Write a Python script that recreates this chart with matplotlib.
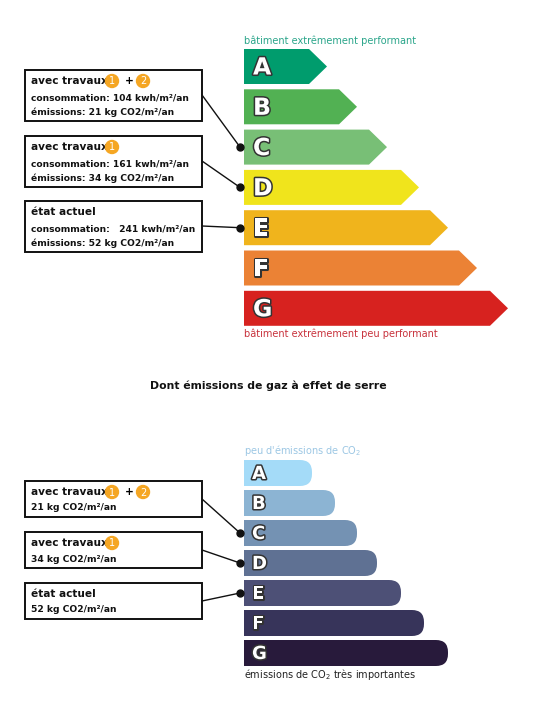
import matplotlib
matplotlib.use("Agg")
import matplotlib.pyplot as plt
from matplotlib.patches import FancyBboxPatch, Rectangle, Circle
import matplotlib.patheffects as pe

classes = ["A", "B", "C", "D", "E", "F", "G"]
energy_tip = [327, 357, 387, 419, 448, 477, 508]
energy_colors = ["#009c6d", "#52b153", "#78bf76", "#f0e41c", "#f0b41c", "#eb8235", "#d7221f"]
ges_end = [312, 335, 357, 377, 401, 424, 448]
ges_colors = ["#a4dbf8", "#8cb4d3", "#7492b3", "#5f7193", "#4d5076", "#37345a", "#281a3b"]

energy_boxes = [
    ("avec travaux", ["1", "2"], "consommation: 104 kwh/m²/an", "émissions: 21 kg CO2/m²/an", "C"),
    ("avec travaux", ["1"], "consommation: 161 kwh/m²/an", "émissions: 34 kg CO2/m²/an", "D"),
    ("état actuel", [], "consommation:   241 kwh/m²/an", "émissions: 52 kg CO2/m²/an", "E"),
]
ges_boxes = [
    ("avec travaux", ["1", "2"], "21 kg CO2/m²/an", "C"),
    ("avec travaux", ["1"], "34 kg CO2/m²/an", "D"),
    ("état actuel", [], "52 kg CO2/m²/an", "E"),
]

fig = plt.figure(figsize=(5.36, 7.24), dpi=100)
ax = fig.add_axes([0, 0, 1, 1])
ax.set_xlim(0, 536)
ax.set_ylim(724, 0)
ax.axis("off")

x0 = 244
stroke = [pe.withStroke(linewidth=2.2, foreground="#333333")]

# Energy chart
e_top, e_pitch, e_h = 49, 40.3, 35
ax.text(x0, 41, "bâtiment extrêmement performant", color="#2aa58a", fontsize=7, va="center")
e_mid = {}
for i, (c, tip, col) in enumerate(zip(classes, energy_tip, energy_colors)):
    y = e_top + i * e_pitch
    body = tip - 18
    ax.fill([x0, body, tip, body, x0], [y, y, y + e_h / 2, y + e_h, y + e_h], color=col, lw=0)
    ax.text(x0 + 9, y + e_h / 2 + 1, c, color="white", fontsize=17, fontweight="bold",
            va="center", ha="left", path_effects=stroke)
    e_mid[c] = y + e_h / 2
ax.text(x0, 334, "bâtiment extrêmement peu performant", color="#c8323c", fontsize=7, va="center")

def circ(x, y, t):
    ax.add_patch(Circle((x, y), 6.5, color="#f5a623", zorder=5))
    ax.text(x, y + 0.5, t, color="white", fontsize=7, ha="center", va="center", zorder=6)

def head(x, y, title, nums):
    ax.text(x, y, title, fontsize=7.6, fontweight="bold", va="center", color="#111")
    if nums:
        circ(x + 81, y, nums[0])
    if len(nums) > 1:
        ax.text(x + 94, y, "+", fontsize=7.6, fontweight="bold", va="center")
        circ(x + 112, y, nums[1])

e_box_tops = [70, 136, 201]
for (title, nums, l1, l2, cls), top in zip(energy_boxes, e_box_tops):
    ax.add_patch(Rectangle((25, top), 177, 51, fill=False, ec="#111", lw=1.4))
    head(31, top + 11, title, nums)
    ax.text(31, top + 28, l1, fontsize=6.6, fontweight="bold", va="center", color="#111")
    ax.text(31, top + 42, l2, fontsize=6.6, fontweight="bold", va="center", color="#111")
    ax.plot([202, 240], [top + 25 if cls != "E" else top + 25, e_mid[cls]], color="#111", lw=1)
    ax.plot(240, e_mid[cls], "o", color="#111", ms=5)

ax.text(268, 386, "Dont émissions de gaz à effet de serre", fontsize=7.8, fontweight="bold",
        ha="center", va="center", color="#111")

# GES chart
g_top, g_pitch, g_h = 460, 30, 26
ax.text(x0, 451, "peu d'émissions de CO$_2$", color="#9cc7e4", fontsize=7, va="center")
g_mid = {}
for i, (c, end, col) in enumerate(zip(classes, ges_end, ges_colors)):
    y = g_top + i * g_pitch
    ax.add_patch(FancyBboxPatch((x0, y), end - x0, g_h,
                                boxstyle="round,pad=0,rounding_size=12", color=col, lw=0))
    ax.add_patch(Rectangle((x0, y), 20, g_h, color=col, lw=0))
    ax.text(x0 + 8, y + g_h / 2 + 1, c, color="white", fontsize=13, fontweight="bold",
            va="center", ha="left", path_effects=stroke)
    g_mid[c] = y + g_h / 2
ax.text(x0, 675, "émissions de CO$_2$ très importantes", color="#222", fontsize=7, va="center")

g_box_tops = [481, 532, 583]
for (title, nums, l1, cls), top in zip(ges_boxes, g_box_tops):
    ax.add_patch(Rectangle((25, top), 177, 36, fill=False, ec="#111", lw=1.4))
    head(31, top + 11, title, nums)
    ax.text(31, top + 27, l1, fontsize=6.6, fontweight="bold", va="center", color="#111")
    ax.plot([202, 240], [top + 18, g_mid[cls]], color="#111", lw=1)
    ax.plot(240, g_mid[cls], "o", color="#111", ms=5)

fig.savefig("out.png", dpi=100, facecolor="white")
